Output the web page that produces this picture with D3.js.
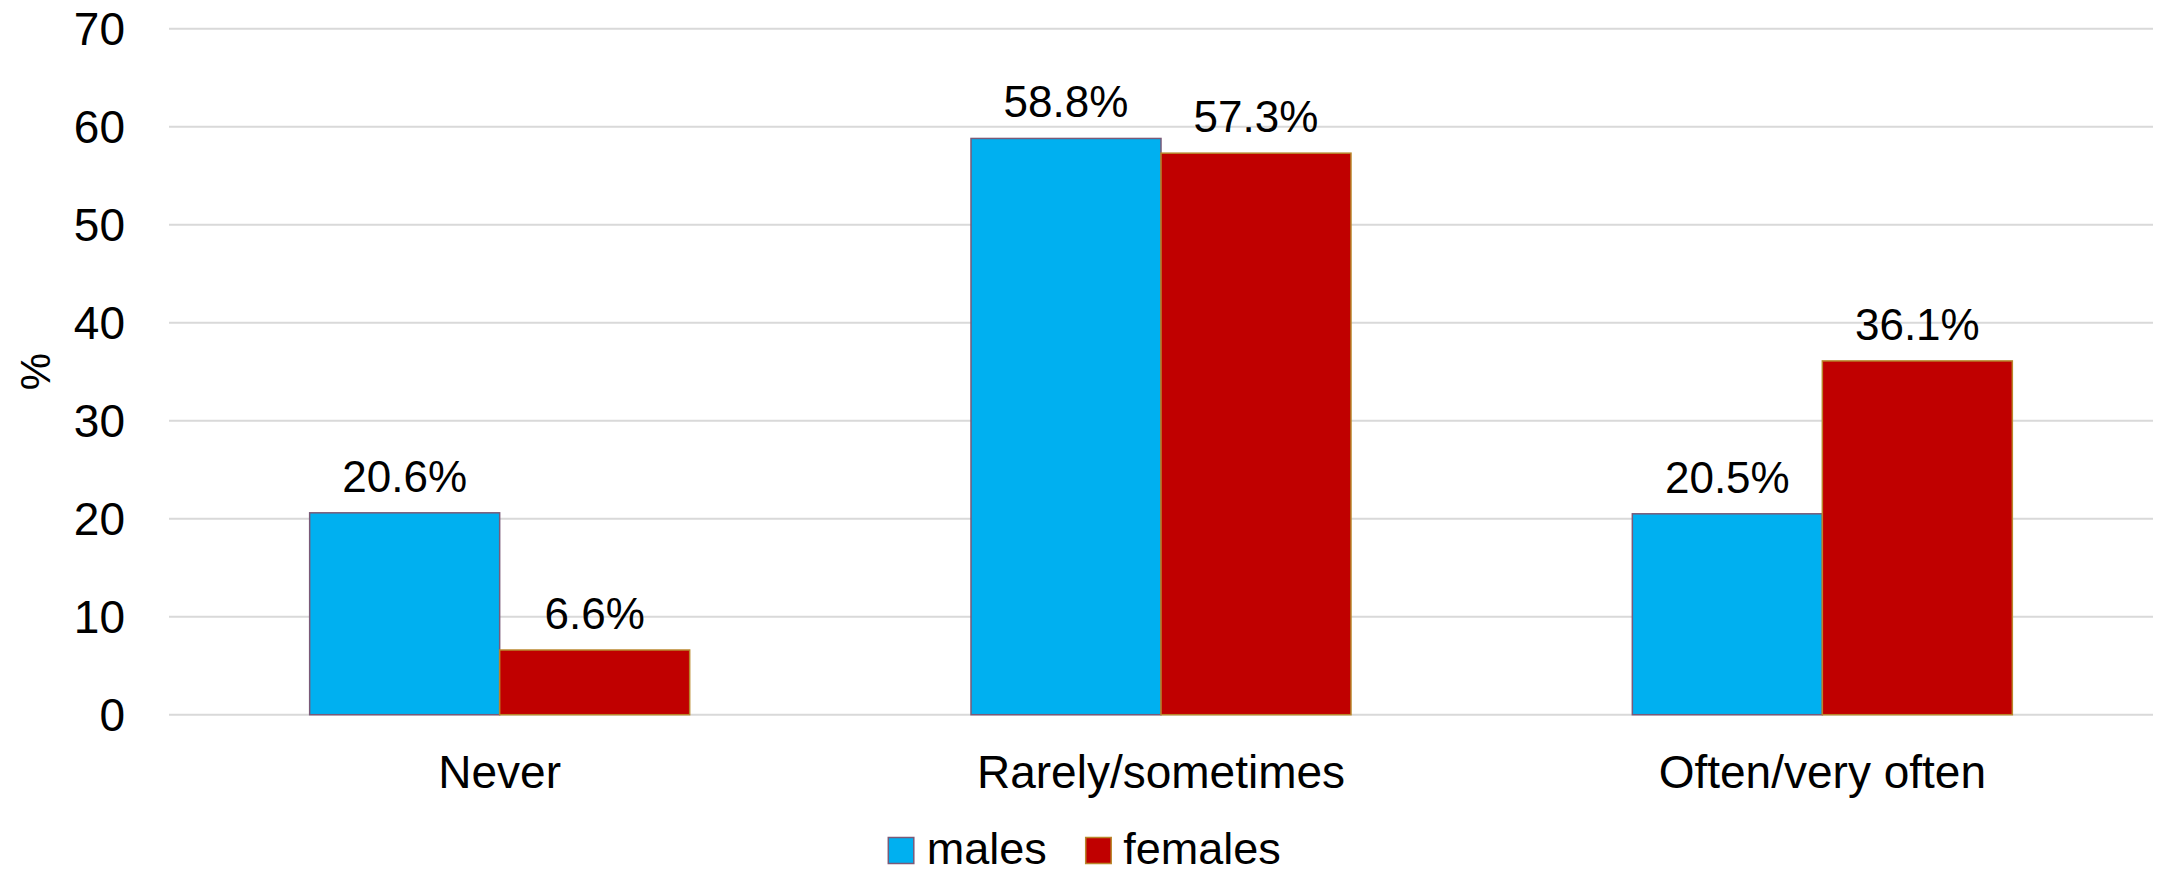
<!DOCTYPE html>
<html>
<head>
<meta charset="utf-8">
<script src="https://cdn.jsdelivr.net/npm/d3@7"></script>
<style>
  html, body { margin: 0; padding: 0; background: #fff; }
  svg { display: block; font-family: "Liberation Sans", Arial, sans-serif; }
</style>
</head>
<body>
<svg id="chart" width="2160" height="871"></svg>
<script>
const categories = ["Never", "Rarely/sometimes", "Often/very often"];
const seriesNames = ["males", "females"];
const males = [20.6, 58.8, 20.5];
const females = [6.6, 57.3, 36.1];
const yTicks = [0, 10, 20, 30, 40, 50, 60, 70];
const yTitle = "%";

(function () {
const fills = { males: "#00B0F0", females: "#C00000" };
const strokes = { males: "#7A5A78", females: "#B8862B" };

const svg = d3.select("#chart");
const mLeft = 169, mRight = 2153, mTop = 28.7, mBottom = 714.7;

const x = d3.scaleBand().domain(categories).range([mLeft, mRight])
  .paddingInner(0.4254).paddingOuter(0.2127);
const xs = d3.scaleBand().domain(seriesNames).range([0, x.bandwidth()]);
const y = d3.scaleLinear().domain([0, 70]).range([mBottom, mTop]);

// gridlines
svg.append("g")
  .selectAll("line").data(yTicks).join("line")
  .attr("x1", mLeft).attr("x2", mRight)
  .attr("y1", d => y(d)).attr("y2", d => y(d))
  .attr("stroke", "#D9D9D9").attr("stroke-width", 2);

// y axis labels
const yAxis = d3.axisLeft(y).tickValues(yTicks).tickSize(0).tickPadding(0);
const yg = svg.append("g").attr("transform", `translate(125,0)`).call(yAxis);
yg.select(".domain").remove();
yg.selectAll("text").attr("font-size", 46).attr("fill", "#000")
  .attr("font-family", "Liberation Sans, Arial, sans-serif").attr("dy", "0.35em");

// y title
svg.append("text")
  .attr("transform", `translate(50,${(mTop + mBottom) / 2}) rotate(-90)`)
  .attr("text-anchor", "middle")
  .attr("font-size", 42).attr("fill", "#000")
  .text(yTitle);

const rows = categories.map((c, i) => ({ cat: c, values: [
  { s: "males", v: males[i] }, { s: "females", v: females[i] } ] }));

const groups = svg.append("g").selectAll("g").data(rows).join("g")
  .attr("transform", d => `translate(${x(d.cat)},0)`);

groups.selectAll("rect").data(d => d.values).join("rect")
  .attr("x", d => xs(d.s)).attr("width", xs.bandwidth())
  .attr("y", d => y(d.v)).attr("height", d => y(0) - y(d.v))
  .attr("fill", d => fills[d.s]).attr("stroke", d => strokes[d.s])
  .attr("stroke-width", 1.5);

groups.selectAll("text.lbl").data(d => d.values).join("text")
  .attr("class", "lbl")
  .attr("x", d => xs(d.s) + xs.bandwidth() / 2)
  .attr("y", d => y(d.v) - 21)
  .attr("text-anchor", "middle").attr("font-size", 44).attr("fill", "#000")
  .text(d => d.v.toFixed(1) + "%");

// x axis labels
const xAxis = d3.axisBottom(x).tickSize(0).tickPadding(0);
const xg = svg.append("g").call(xAxis);
xg.select(".domain").remove();
xg.selectAll("text").attr("font-size", 46).attr("fill", "#000")
  .attr("font-family", "Liberation Sans, Arial, sans-serif")
  .attr("y", 788).attr("dy", 0);

// legend
const legendItems = [
  { name: "males", sx: 888.3, tx: 926.7 },
  { name: "females", sx: 1085.7, tx: 1123.3 }
];
const lg = svg.append("g");
lg.selectAll("rect").data(legendItems).join("rect")
  .attr("x", d => d.sx).attr("y", 837.5).attr("width", 25.5).attr("height", 26)
  .attr("fill", d => fills[d.name]).attr("stroke", d => strokes[d.name]).attr("stroke-width", 1.5);
lg.selectAll("text").data(legendItems).join("text")
  .attr("x", d => d.tx).attr("y", 864).attr("font-size", 45).attr("fill", "#000")
  .text(d => d.name);
})();
</script>
</body>
</html>
